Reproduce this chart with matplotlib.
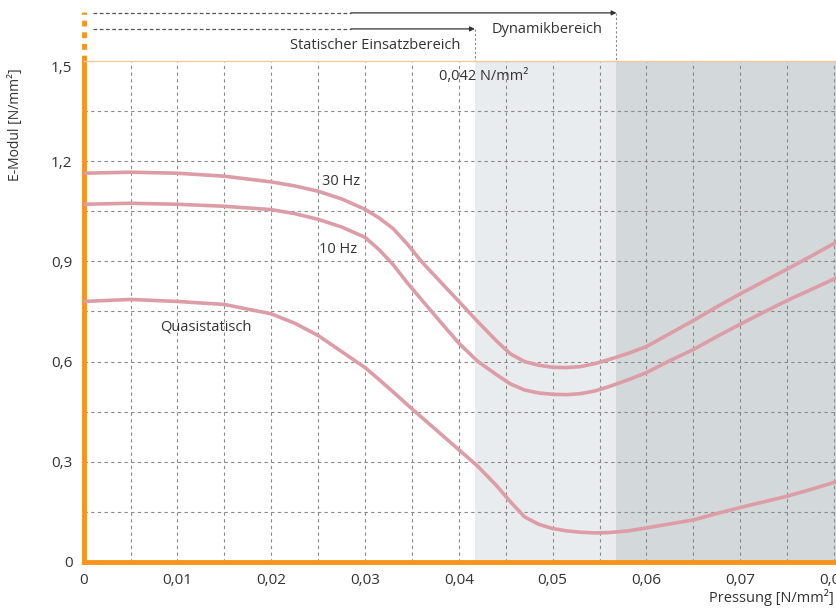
import numpy as np
import matplotlib.pyplot as plt
from matplotlib.transforms import blended_transform_factory

# data
pressure = [0, 0.005, 0.01, 0.015, 0.02, 0.0225, 0.025, 0.0275, 0.03, 0.0315, 0.033,
            0.0345, 0.036, 0.038, 0.04, 0.042, 0.044, 0.0455, 0.047, 0.0485, 0.05,
            0.0515, 0.053, 0.0545, 0.056, 0.058, 0.06, 0.0625, 0.065, 0.0675, 0.07,
            0.0725, 0.075, 0.0775, 0.0802]
e_30hz = [1.164, 1.167, 1.164, 1.155, 1.138, 1.126, 1.11, 1.087, 1.056, 1.03, 0.998,
          0.952, 0.9, 0.84, 0.78, 0.72, 0.662, 0.623, 0.6, 0.589, 0.583,
          0.582, 0.585, 0.594, 0.606, 0.624, 0.645, 0.684, 0.723, 0.764, 0.803,
          0.84, 0.877, 0.915, 0.957]
e_10hz = [1.071, 1.074, 1.071, 1.065, 1.055, 1.043, 1.026, 1.003, 0.972, 0.935, 0.89,
          0.836, 0.786, 0.72, 0.655, 0.601, 0.561, 0.533, 0.515, 0.506, 0.502,
          0.501, 0.504, 0.512, 0.525, 0.545, 0.567, 0.603, 0.636, 0.675, 0.712,
          0.748, 0.783, 0.815, 0.85]
e_quasi = [0.78, 0.786, 0.78, 0.771, 0.743, 0.715, 0.678, 0.63, 0.582, 0.546, 0.509,
           0.471, 0.434, 0.385, 0.336, 0.287, 0.229, 0.18, 0.135, 0.113, 0.1,
           0.093, 0.089, 0.087, 0.088, 0.093, 0.102, 0.114, 0.126, 0.145, 0.163,
           0.18, 0.197, 0.217, 0.24]

x_ticks = [0, 0.01, 0.02, 0.03, 0.04, 0.05, 0.06, 0.07, 0.08]
x_labels = ["0", "0,01", "0,02", "0,03", "0,04", "0,05", "0,06", "0,07", "0,08"]
y_ticks = [0, 0.3, 0.6, 0.9, 1.2, 1.5]
y_labels = ["0", "0,3", "0,6", "0,9", "1,2", "1,5"]

static_limit = 0.0417
dynamic_limit = 0.0568

ORANGE = "#f7941d"
PINK = "#dd9da7"
GRID = "#8a8a8a"
TEXT = "#333333"

plt.rcParams['font.family'] = ['Open Sans', 'DejaVu Sans']

fig = plt.figure(figsize=(8.36, 6.08), dpi=100)
ax = fig.add_axes([0.100, 0.0757, 0.900, 0.824])
ax.set_xlim(0, 0.0802)
ax.set_ylim(0, 1.5)

# shaded ranges
ax.axvspan(static_limit, dynamic_limit, color="#e8ecef", lw=0, zorder=0)
ax.axvspan(dynamic_limit, 0.0802, color="#d3d8db", lw=0, zorder=0)

# dashed grid
for gx in np.arange(0.005, 0.0801, 0.005):
    ax.axvline(gx, color=GRID, lw=0.8, ls=(0, (3, 3)), zorder=1)
for gy in np.arange(0.15, 1.4, 0.15):
    ax.axhline(gy, color=GRID, lw=0.8, ls=(0, (3, 3)), zorder=1)

# curves
for ys in (e_30hz, e_10hz, e_quasi):
    ax.plot(pressure, ys, color=PINK, lw=2.6, solid_capstyle='round',
            solid_joinstyle='round', zorder=3)

ax.text(0.0254, 1.14, "30 Hz", fontsize=10.5, color=TEXT, ha="left", va="center")
ax.text(0.0251, 0.937, "10 Hz", fontsize=10.5, color=TEXT, ha="left", va="center")
ax.text(0.0082, 0.705, "Quasistatisch", fontsize=10.5, color=TEXT, ha="left", va="center")
ax.text(0.0379, 1.455, "0,042 N/mm²", fontsize=10.5, color=TEXT, ha="left", va="center")

# axes styling
for side in ("left", "bottom"):
    ax.spines[side].set_color(ORANGE)
    ax.spines[side].set_linewidth(3.5)
ax.spines["right"].set_visible(False)
ax.spines["top"].set_color("#f9c89b")
ax.spines["top"].set_linewidth(1)

ax.set_xticks(x_ticks)
ax.set_xticklabels(x_labels)
ax.set_yticks(y_ticks)
ax.set_yticklabels(y_labels)
ax.tick_params(length=0, labelsize=11, colors=TEXT, pad=8)
ax.get_yticklabels()[-1].set_va("top")

fig.text(0.019, 0.795, "E-Modul [N/mm²]", rotation=90, fontsize=10, color=TEXT,
         ha="center", va="center")
fig.text(0.997, 0.0165, "Pressung [N/mm²]", fontsize=10.5, color=TEXT, ha="right", va="center")

# range annotations above the plot
tr = blended_transform_factory(ax.transData, ax.transAxes)
ax.plot([0, 0], [1.0, 1.098], color=ORANGE, lw=3.5, ls=(0, (1.2, 1.2)),
        transform=tr, clip_on=False)
for y, end, label in ((1.096, dynamic_limit, "Dynamikbereich"),
                      (1.064, static_limit, "Statischer Einsatzbereich")):
    ax.plot([0.001, 0.0285], [y, y], color="#555555", lw=0.9, ls=(0, (3, 2)),
            transform=tr, clip_on=False)
    ax.annotate("", xy=(end, y), xytext=(0.0285, y), xycoords=tr, textcoords=tr,
                arrowprops=dict(arrowstyle="-|>", color=TEXT, lw=0.9,
                                mutation_scale=7, shrinkA=0, shrinkB=0),
                annotation_clip=False)
    ax.plot([end, end], [y, 1.0], color="#888888", lw=0.8, ls=(0, (2, 2)),
            transform=tr, clip_on=False)
    ax.text(end - 0.0015, y - 0.034, label, fontsize=10.5, color=TEXT,
            ha="right", va="center", transform=tr)

fig.savefig("out.png", dpi=100)
